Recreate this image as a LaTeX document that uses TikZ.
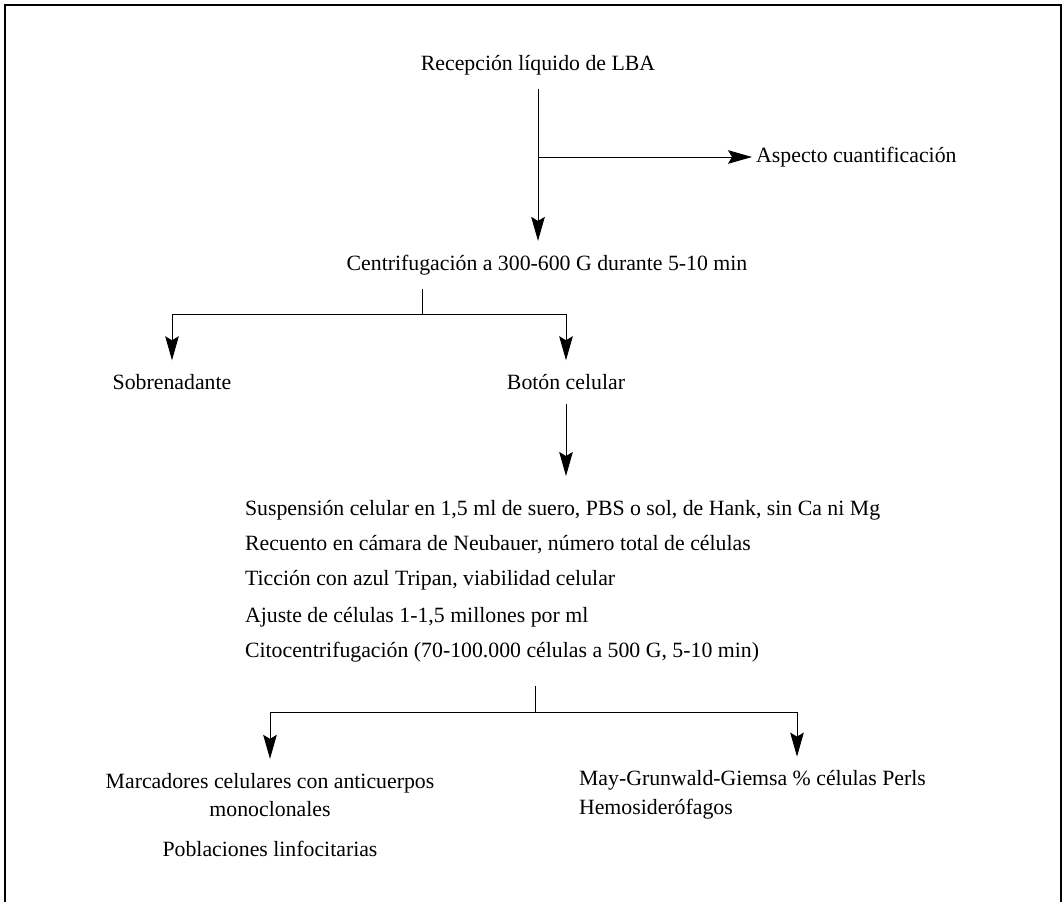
\documentclass[tikz,border=0pt]{standalone}
\usepackage{fontspec}
\setmainfont{Liberation Serif}
\usetikzlibrary{arrows.meta}

\begin{document}
\begin{tikzpicture}[
    x=0.025cm, y=-0.025cm,
    txt/.style={font=\fontsize{15.5}{20.5}\selectfont, inner sep=2pt, outer sep=8pt},
    line/.style={line width=0.7pt, draw=black},
    arrow/.style={line, -{Stealth[length=0.6cm, width=0.34cm, inset=0.1cm]}}
  ]
    \useasboundingbox (0,0) rectangle (1063,901);
    % frame, open at the bottom
    \draw[line width=1.4pt] (5,910) -- (5,5) -- (1061,5) -- (1061,910);

    \node[txt] (recv) at (538,65) {Recepción líquido de LBA};
    \node[txt, anchor=west, outer sep=1pt] (aspect) at (752,157) {Aspecto cuantificación};
    \node[txt] (centr) at (547,265) {Centrifugación a 300-600 G durante 5-10 min};
    \node[txt] (sobre) at (172,382) {Sobrenadante};
    \node[txt] (boton) at (566,382) {Botón celular};

    \node[txt, anchor=west] (s1) at (231,510) {Suspensión celular en 1,5 ml de suero, PBS o sol, de Hank, sin Ca ni Mg};
    \node[txt, anchor=west] (s2) at (231,545) {Recuento en cámara de Neubauer, número total de células};
    \node[txt, anchor=west] (s3) at (231,580) {Ticción con azul Tripan, viabilidad celular};
    \node[txt, anchor=west] (s4) at (231,617) {Ajuste de células 1-1,5 millones por ml};
    \node[txt, anchor=west] (s5) at (231,652) {Citocentrifugación (70-100.000 células a 500 G, 5-10 min)};

    \node[txt, align=center] (marc) at (270,795) {Marcadores celulares con anticuerpos\\monoclonales};
    \node[txt] (pobl) at (270,849) {Poblaciones linfocitarias};
    \node[txt, align=left, anchor=west] (may) at (565,795) {May-Grunwald-Giemsa \% células Perls\\Hemosiderófagos};

    \coordinate (j1) at (538,157);
    \coordinate (j2) at (422,314);
    \coordinate (j3) at (535,712);
    \coordinate (j4) at (797,712);

    \draw[line] (recv) -- (j1);
    \draw[arrow] (j1) -- (j1 |- centr.north);
    \draw[arrow] (j1) -- (aspect.west |- j1);
    \draw[line] (j2 |- centr.south) -- (j2);
    \draw[arrow] (j2) -| (sobre);
    \draw[arrow] (j2) -| (boton);
    \draw[arrow, shorten >=0.25cm] (boton) -- (boton |- s1.north);
    \draw[line, shorten <=0.25cm] (j3 |- s5.south) -- (j3);
    \draw[arrow] (j3) -| (marc);
    \draw[arrow] (j3) -- (j4) -- (j4 |- may.north);
\end{tikzpicture}
\end{document}
